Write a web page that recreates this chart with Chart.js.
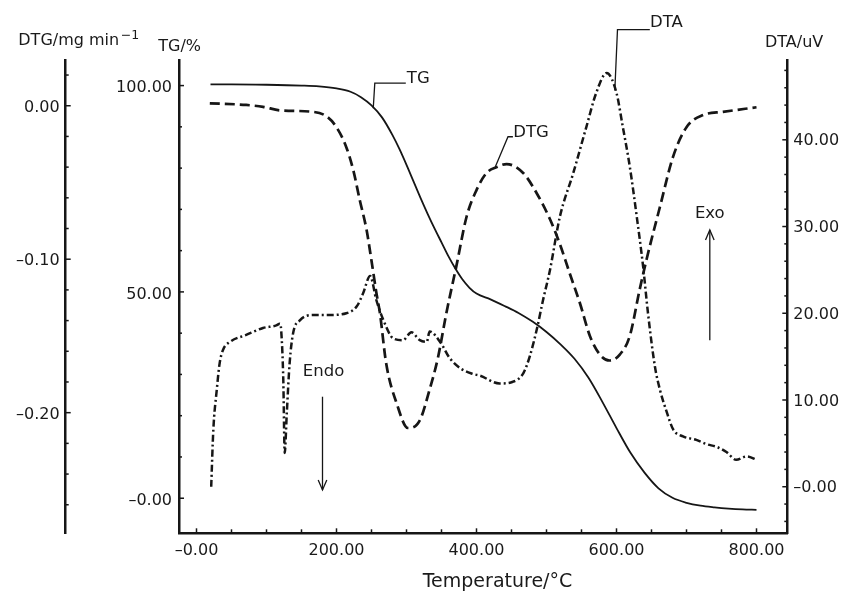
<!DOCTYPE html>
<html><head><meta charset="utf-8">
<script src="https://cdn.jsdelivr.net/npm/chart.js@4.4.1/dist/chart.umd.min.js"></script>
<style>html,body{margin:0;padding:0;background:#fff;}#wrap{width:843px;height:594px;position:relative;}</style>
</head><body><div id="wrap"><canvas id="c" width="843" height="594"></canvas></div>
<script>
// ---------- data ----------
const tgTemp = [20,50,100,150,175,200,220,235,250,265,280,290,300,310,320,330,340,350,360,370,380,390,400,420,440,460,480,500,520,540,560,580,600,620,640,660,680,700,720,740,760,780,800];
const tgMass = [100.3,100.3,100.2,100.0,99.8,99.3,98.5,97.2,95.2,92.3,88.0,84.6,80.8,76.8,72.8,69.0,65.4,62.0,58.6,55.6,53.0,51.0,49.6,48.2,46.6,44.9,42.8,40.3,37.3,33.8,29.2,23.3,17.0,11.0,6.2,2.4,0.1,-1.1,-1.8,-2.2,-2.5,-2.7,-2.8];

const dtgTemp = [19,71,95,119,167,186,200,214,224,233,243,250,257,262,271,286,302,319,333,345,357,371,386,400,414,429,443,467,486,505,519,533,548,562,576,590,605,619,633,643,662,681,700,724,752,800];
const dtgRate = [0.0016,0.0005,-0.0007,-0.003,-0.004,-0.007,-0.014,-0.027,-0.042,-0.061,-0.081,-0.101,-0.122,-0.135,-0.168,-0.194,-0.210,-0.205,-0.185,-0.164,-0.135,-0.105,-0.072,-0.055,-0.044,-0.040,-0.038,-0.044,-0.057,-0.074,-0.090,-0.109,-0.129,-0.150,-0.162,-0.166,-0.162,-0.150,-0.120,-0.100,-0.066,-0.033,-0.014,-0.006,-0.004,-0.001];

const dtaTemp = [21,24,29,33,38,48,71,95,114,119,121,124,126,129,133,138,148,167,190,214,229,238,248,257,267,281,295,307,319,329,333,348,362,378,395,405,433,452,467,476,486,495,505,519,538,557,571,586,600,609,619,629,638,645,655,662,671,681,695,714,729,743,757,771,786,800];
const dtaSignal = [0,6.5,11.2,14.2,15.8,16.7,17.5,18.3,18.6,18.8,18.0,12.3,3.9,8.5,14.2,17.7,19.2,19.8,19.8,20.0,20.8,22.3,24.3,21.5,19.2,17.1,16.9,17.8,16.9,16.7,17.9,16.7,14.8,13.6,13.0,12.8,11.9,12.1,13.1,15.0,18.1,21.5,25.0,31.1,36.1,41.5,45.4,47.7,45.4,41.5,36.9,31.1,25.4,20.0,13.8,11.2,8.8,6.6,5.8,5.4,4.9,4.6,4.0,3.1,3.5,3.1];

// ---------- ticks ----------
const xTickValues = [0,200,400,600,800];
const xTickLabels = ['\u20130.00','200.00','400.00','600.00','800.00'];
const xMinorTicks = [50,100,150,250,300,350,450,500,550,650,700,750];
const tgTickValues = [0,50,100];
const tgTickLabels = ['\u20130.00','50.00','100.00'];
const tgMinorTicks = [10,20,30,40,60,70,80,90];
const dtgTickValues = [-0.2,-0.1,0];
const dtgTickLabels = ['\u20130.20','\u20130.10','0.00'];
const dtgMinorTicks = [0.02,-0.02,-0.04,-0.06,-0.08,-0.12,-0.14,-0.16,-0.18,-0.22,-0.24,-0.26];
const dtaTickValues = [0,10,20,30,40];
const dtaTickLabels = ['\u20130.00','10.00','20.00','30.00','40.00'];
const dtaMinorTicks = [-4,-2,2,4,6,8,12,14,16,18,22,24,26,28,32,34,36,38,42,44,46,48];

const FONT = "'DejaVu Sans', sans-serif";
const INK = '#161616';

function pts(xs, ys){ return xs.map((x,i)=>({x:x, y:ys[i]})); }

function scaleOpts(pos, weight, min, max, vals, labels, size, pad, lblOff){
  const o = {
    type:'linear', position:pos, min:min, max:max,
    grid:{display:false, drawTicks:false},
    border:{display:true, color:INK, width:2.5},
    ticks:{padding:pad, labelOffset:lblOff, color:'#1a1a1a', font:{family:FONT, size:16}, autoSkip:false, maxRotation:0,
      callback:(v)=>{ const i = vals.indexOf(v); return i < 0 ? '' : labels[i]; }},
    afterBuildTicks:(s)=>{ s.ticks = vals.map(v=>({value:v})); }
  };
  if (weight !== null) o.weight = weight;
  if (pos === 'bottom') o.afterFit = (s)=>{ s.height = size; };
  else o.afterFit = (s)=>{ s.width = size; };
  return o;
}

const tickPlugin = {
  id:'innerTicks',
  afterDraw(chart){
    const ctx = chart.ctx, s = chart.scales;
    ctx.save();
    ctx.strokeStyle = INK; ctx.lineWidth = 1.5;
    const seg = (x1,y1,x2,y2)=>{ ctx.beginPath(); ctx.moveTo(x1,y1); ctx.lineTo(x2,y2); ctx.stroke(); };
    xTickValues.forEach(v=>{ const p=s.x.getPixelForValue(v); seg(p,s.x.top,p,s.x.top-5); });
    xMinorTicks.forEach(v=>{ const p=s.x.getPixelForValue(v); seg(p,s.x.top,p,s.x.top-4); });
    const leftTicks = (sc, maj, min)=>{
      maj.forEach(v=>{ const p=sc.getPixelForValue(v); seg(sc.right,p,sc.right+5,p); });
      min.forEach(v=>{ const p=sc.getPixelForValue(v); seg(sc.right,p,sc.right+3,p); });
    };
    leftTicks(s.yTG, tgTickValues, tgMinorTicks);
    leftTicks(s.yDTG, dtgTickValues, dtgMinorTicks);
    dtaTickValues.forEach(v=>{ const p=s.yDTA.getPixelForValue(v); seg(s.yDTA.left,p,s.yDTA.left-5,p); });
    dtaMinorTicks.forEach(v=>{ const p=s.yDTA.getPixelForValue(v); seg(s.yDTA.left,p,s.yDTA.left-3,p); });
    ctx.restore();
  }
};

const annoPlugin = {
  id:'annotations',
  afterDraw(chart){
    const ctx = chart.ctx, s = chart.scales;
    const X = v=>s.x.getPixelForValue(v);
    ctx.save();
    ctx.strokeStyle = INK; ctx.fillStyle = '#1a1a1a'; ctx.lineWidth = 1.3;
    const poly = (arr)=>{ ctx.beginPath(); arr.forEach((p,i)=> i ? ctx.lineTo(p[0],p[1]) : ctx.moveTo(p[0],p[1])); ctx.stroke(); };
    const tg = v=>s.yTG.getPixelForValue(v), dtg = v=>s.yDTG.getPixelForValue(v), dta = v=>s.yDTA.getPixelForValue(v);
    // leaders
    poly([[X(252.5),tg(94.5)],[X(254.7),tg(100.6)],[X(299),tg(100.6)]]);
    poly([[X(426),dtg(-0.0408)],[X(445),dtg(-0.0202)],[X(452),dtg(-0.0202)]]);
    poly([[X(597.6),dta(45.7)],[X(601.4),dta(52.7)],[X(647.6),dta(52.7)]]);
    ctx.font = '16.5px ' + FONT; ctx.textBaseline = 'alphabetic'; ctx.textAlign = 'left';
    ctx.fillText('TG', X(300.5), tg(100.6));
    ctx.fillText('DTG', X(452.5), dtg(-0.0202));
    ctx.fillText('DTA', X(648), dta(53.0));
    // Endo arrow (down)
    ctx.textAlign = 'center';
    const ex = X(180);
    ctx.fillText('Endo', X(181.5), tg(29.5));
    poly([[ex,tg(24.6)],[ex,tg(2.0)]]);
    poly([[ex-4.3,tg(2.0)-10],[ex,tg(2.0)],[ex+4.3,tg(2.0)-10]]);
    // Exo arrow (up)
    const ox = X(733.3);
    ctx.fillText('Exo', ox, dta(30.97));
    poly([[ox,dta(16.9)],[ox,dta(29.6)]]);
    poly([[ox-4.3,dta(29.6)+10],[ox,dta(29.6)],[ox+4.3,dta(29.6)+10]]);
    // axis titles
    ctx.textAlign = 'left';
    ctx.font = '16px ' + FONT;
    ctx.fillText('DTG/mg min', 18.3, 45);
    const w = ctx.measureText('DTG/mg min').width;
    ctx.font = '12.5px ' + FONT;
    ctx.fillText('\u22121', 18.3 + w + 1.5, 39);
    ctx.font = '16px ' + FONT;
    ctx.fillText('TG/%', 158.3, 51);
    ctx.fillText('DTA/uV', 765, 46.5);
    ctx.textAlign = 'center';
    ctx.font = '19px ' + FONT;
    ctx.fillText('Temperature/\u00B0C', 497.5, 587);
    ctx.restore();
  }
};

new Chart(document.getElementById('c'), {
  type:'line',
  data:{ datasets:[
    {label:'TG', data:pts(tgTemp,tgMass), yAxisID:'yTG', borderColor:INK, borderWidth:1.8, pointRadius:0, cubicInterpolationMode:'monotone', fill:false},
    {label:'DTG', data:pts(dtgTemp,dtgRate), yAxisID:'yDTG', borderColor:INK, borderWidth:2.7, borderDash:[10,5], pointRadius:0, cubicInterpolationMode:'monotone', fill:false},
    {label:'DTA', data:pts(dtaTemp,dtaSignal), yAxisID:'yDTA', borderColor:INK, borderWidth:2.5, borderDash:[7,3,2,3], pointRadius:0, cubicInterpolationMode:'monotone', fill:false}
  ]},
  options:{
    responsive:false, animation:false, devicePixelRatio:1,
    layout:{padding:{top:60,left:0,right:0,bottom:0}},
    plugins:{legend:{display:false}, tooltip:{enabled:false}},
    scales:{
      x: scaleOpts('bottom', null, -25, 844, xTickValues, xTickLabels, 60.7, 8, 0),
      yDTG: scaleOpts('left', 1, -0.2786, 0.0298, dtgTickValues, dtgTickLabels, 65.7, 6, 2),
      yTG: scaleOpts('left', 0, -8.5, 106.2, tgTickValues, tgTickLabels, 113.3, 7, 2.5),
      yDTA: scaleOpts('right', null, -5.37, 49.2, dtaTickValues, dtaTickLabels, 55.7, 6, 1.5)
    }
  },
  plugins:[tickPlugin, annoPlugin]
});
</script></body></html>
